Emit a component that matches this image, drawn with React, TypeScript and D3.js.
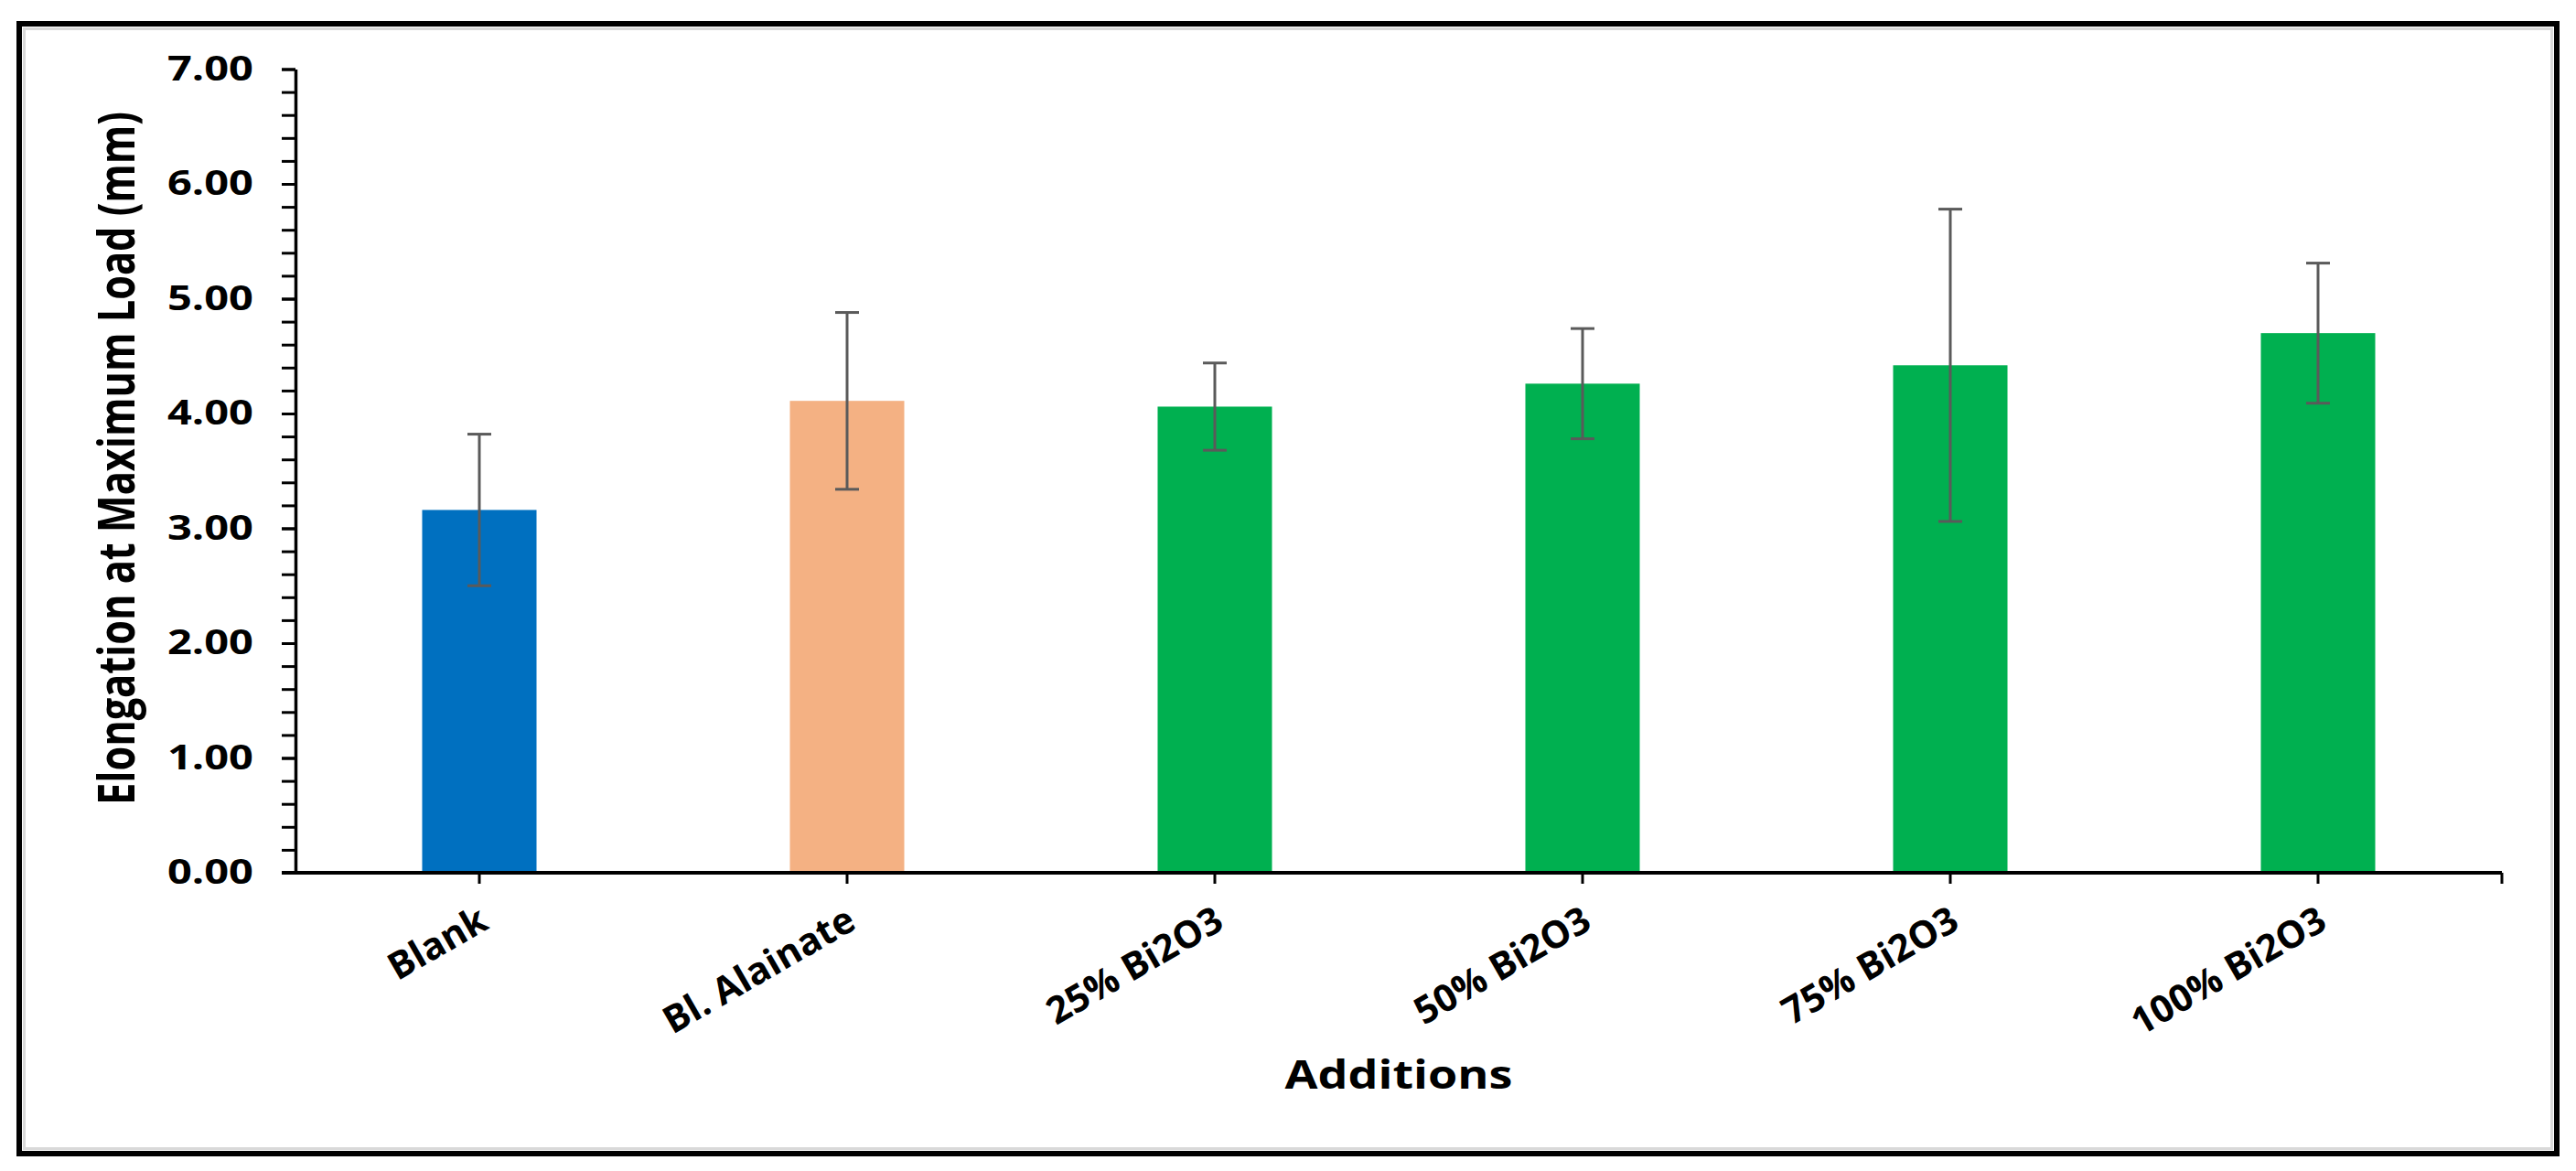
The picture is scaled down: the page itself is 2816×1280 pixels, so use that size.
import { axisBottom, axisLeft, range, scaleBand, scaleLinear, select, format } from "d3";
import React, { useEffect, useRef } from "react";

const categories = [
    "Blank",
    "Bl. Alainate",
    "25% Bi2O3",
    "50% Bi2O3",
    "75% Bi2O3",
    "100% Bi2O3",
];
const means = [3.16, 4.11, 4.06, 4.26, 4.42, 4.7];
const errors = [0.66, 0.77, 0.38, 0.48, 1.36, 0.61];
const barColors = ["#0070C0", "#F4B183", "#00B050", "#00B050", "#00B050", "#00B050"];
const yTicks = [0, 1, 2, 3, 4, 5, 6, 7];
const yMinorStep = 0.2;

const FONT = "'Open Sans', 'DejaVu Sans', sans-serif";

const App: React.FC = () => {
    const svgRef = useRef<SVGSVGElement>(null);

    useEffect(() => {
        if (!svgRef.current) return;
        svgRef.current.innerHTML = "";

        var width = 2816,
            height = 1280;
        var plot = { left: 323, right: 2735, top: 75.5, bottom: 954 };

        var svg = select(svgRef.current)
            .attr("width", width)
            .attr("height", height)
            .attr("font-family", FONT);

        svg.append("rect")
            .attr("width", width)
            .attr("height", height)
            .attr("fill", "#fff");

        // frame with the thin grey inner line
        svg.append("rect")
            .attr("x", 21)
            .attr("y", 26)
            .attr("width", 2774)
            .attr("height", 1235)
            .attr("fill", "none")
            .attr("stroke", "#000")
            .attr("stroke-width", 6);
        svg.append("rect")
            .attr("x", 26.5)
            .attr("y", 31.5)
            .attr("width", 2763)
            .attr("height", 1224)
            .attr("fill", "none")
            .attr("stroke", "#d9d9d9")
            .attr("stroke-width", 3);

        var x = scaleBand<string>()
            .domain(categories)
            .range([plot.left, plot.right])
            .padding(0);

        var y = scaleLinear()
            .domain([yTicks[0], yTicks[yTicks.length - 1]])
            .range([plot.bottom, plot.top]);

        var barWidth = x.bandwidth() * 0.311;

        // bars
        svg.selectAll(".bar")
            .data(categories)
            .enter()
            .append("rect")
            .attr("x", d => x(d)! + x.bandwidth() / 2 - barWidth / 2)
            .attr("y", (d, i) => y(means[i]))
            .attr("width", barWidth)
            .attr("height", (d, i) => y(0) - y(means[i]))
            .attr("fill", (d, i) => barColors[i]);

        // error bars
        var err = svg.append("g")
            .attr("stroke", "#5a5a5a")
            .attr("stroke-width", 3);
        categories.forEach((c, i) => {
            var cx = x(c)! + x.bandwidth() / 2;
            var hi = y(means[i] + errors[i]);
            var lo = y(means[i] - errors[i]);
            err.append("line").attr("x1", cx).attr("x2", cx).attr("y1", hi).attr("y2", lo);
            err.append("line").attr("x1", cx - 13).attr("x2", cx + 13).attr("y1", hi).attr("y2", hi);
            err.append("line").attr("x1", cx - 13).attr("x2", cx + 13).attr("y1", lo).attr("y2", lo);
        });

        // y axis: minor ticks
        var minorTicks = range(yTicks[0], yTicks[yTicks.length - 1] + 0.001, yMinorStep);
        svg.append("g")
            .attr("transform", "translate(" + plot.left + ",0)")
            .call(axisLeft(y).tickValues(minorTicks).tickSize(15).tickFormat(() => ""))
            .call(g => g.select(".domain").remove())
            .call(g => g.selectAll(".tick line").attr("stroke", "#000").attr("stroke-width", 3));

        // y axis: major ticks + labels
        svg.append("g")
            .attr("transform", "translate(" + plot.left + ",0)")
            .call(
                axisLeft(y)
                    .tickValues(yTicks)
                    .tickSize(15)
                    .tickSizeOuter(0)
                    .tickPadding(31)
                    .tickFormat(d => format(".2f")(d as number)),
            )
            .call(g => g.select(".domain").attr("stroke", "#000").attr("stroke-width", 3.5))
            .call(g => g.selectAll(".tick line").attr("stroke", "#000").attr("stroke-width", 3))
            .call(g =>
                g
                    .selectAll(".tick text")
                    .attr("fill", "#000")
                    .attr("font-family", FONT)
                    .attr("font-weight", 700)
                    .attr("font-size", 37)
                    .attr("textLength", 94)
                    .attr("lengthAdjust", "spacingAndGlyphs"),
            );

        // x axis
        svg.append("g")
            .attr("transform", "translate(0," + plot.bottom + ")")
            .call(axisBottom(x).tickSize(12).tickSizeOuter(0))
            .call(g => g.select(".domain").remove())
            .call(g => g.selectAll(".tick line").attr("stroke", "#000").attr("stroke-width", 3))
            .call(g =>
                g
                    .selectAll(".tick text")
                    .attr("fill", "#000")
                    .attr("font-family", FONT)
                    .attr("font-weight", 700)
                    .attr("font-size", 41)
                    .attr("text-anchor", "end")
                    .attr("y", 0)
                    .attr("dy", 0)
                    .attr("transform", "translate(12,60) rotate(-30)"),
            );

        svg.append("line")
            .attr("x1", plot.left - 15)
            .attr("x2", x.range()[1])
            .attr("y1", plot.bottom)
            .attr("y2", plot.bottom)
            .attr("stroke", "#000")
            .attr("stroke-width", 4);
        svg.append("line")
            .attr("x1", x.range()[1])
            .attr("x2", x.range()[1])
            .attr("y1", plot.bottom)
            .attr("y2", plot.bottom + 12)
            .attr("stroke", "#000")
            .attr("stroke-width", 3);

        // axis titles
        svg.append("text")
            .attr("transform", "translate(147,501) rotate(-90)")
            .attr("text-anchor", "middle")
            .attr("font-weight", 700)
            .attr("font-size", 55)
            .attr("textLength", 758)
            .attr("lengthAdjust", "spacingAndGlyphs")
            .text("Elongation at Maximum Load (mm)");

        svg.append("text")
            .attr("x", (plot.left + plot.right) / 2)
            .attr("y", 1190)
            .attr("text-anchor", "middle")
            .attr("font-weight", 700)
            .attr("font-size", 43)
            .attr("textLength", 249)
            .attr("lengthAdjust", "spacingAndGlyphs")
            .text("Additions");
    }, []);

    return (
        <div style={{ position: "absolute", left: 0, top: 0 }}>
            <svg ref={svgRef} style={{ display: "block" }}></svg>
        </div>
    );
};

export default App;
